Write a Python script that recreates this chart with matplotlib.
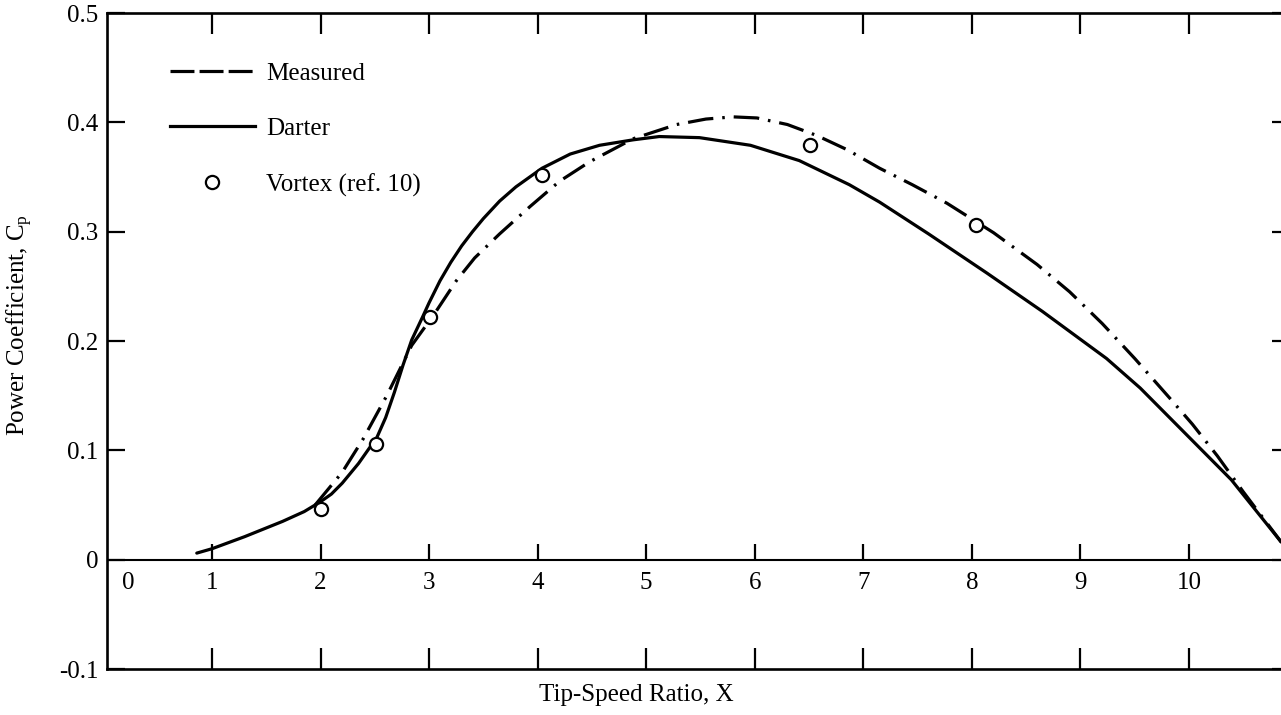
import matplotlib
matplotlib.use('Agg')
import matplotlib.pyplot as plt
from matplotlib.lines import Line2D

plt.rcParams['font.family'] = ['Liberation Serif', 'DejaVu Serif']
plt.rcParams['mathtext.fontset'] = 'custom'
plt.rcParams['mathtext.rm'] = 'Liberation Serif'
plt.rcParams['mathtext.it'] = 'Liberation Serif:italic'

# Darter (solid line)
darter_x = [0.86, 1.0, 1.3, 1.65, 1.85, 2.0, 2.1, 2.2, 2.35, 2.52, 2.6, 2.68,
            2.76, 2.84, 2.94, 3.0, 3.1, 3.2, 3.3, 3.4, 3.5, 3.65, 3.8, 4.04,
            4.3, 4.57, 4.88, 5.12, 5.49, 5.96, 6.41, 6.87, 7.15, 7.6, 8.14,
            8.65, 9.24, 9.55, 9.85, 10.39, 10.85]
darter_y = [0.006, 0.010, 0.021, 0.035, 0.044, 0.053, 0.060, 0.070, 0.088,
            0.112, 0.130, 0.153, 0.178, 0.201, 0.222, 0.235, 0.255, 0.272,
            0.287, 0.300, 0.312, 0.328, 0.341, 0.358, 0.371, 0.379, 0.384,
            0.387, 0.386, 0.379, 0.365, 0.343, 0.327, 0.298, 0.262, 0.227,
            0.184, 0.157, 0.127, 0.073, 0.016]

# Measured (dash-dot line)
meas_x = [1.95, 2.2, 2.39, 2.61, 2.84, 3.05, 3.25, 3.42, 3.65, 3.93, 4.2, 4.48,
          4.88, 5.28, 5.55, 5.8, 6.02, 6.3, 6.57, 6.85, 7.15, 7.45, 7.77, 8.2,
          8.6, 8.9, 9.2, 9.5, 9.82, 10.03, 10.26, 10.5, 10.85]
meas_y = [0.05, 0.08, 0.11, 0.15, 0.196, 0.225, 0.255, 0.276, 0.298, 0.323,
          0.346, 0.364, 0.385, 0.398, 0.403, 0.405, 0.404, 0.398, 0.388, 0.375,
          0.358, 0.343, 0.326, 0.299, 0.270, 0.245, 0.216, 0.184, 0.148, 0.124,
          0.095, 0.062, 0.016]

# Vortex (ref. 10) points
vort_x = [2.0, 2.51, 3.01, 4.04, 6.51, 8.04]
vort_y = [0.046, 0.106, 0.222, 0.352, 0.379, 0.306]

xticks = [1, 2, 3, 4, 5, 6, 7, 8, 9, 10]
xlabels = ['0', '1', '2', '3', '4', '5', '6', '7', '8', '9', '10']
yticks = [-0.1, 0, 0.1, 0.2, 0.3, 0.4, 0.5]
ylabels = ['-0.1', '0', '0.1', '0.2', '0.3', '0.4', '0.5']

fig = plt.figure(figsize=(12.81, 7.15), dpi=100)
ax = fig.add_axes([107 / 1281, 1 - 669 / 715, (1290 - 107) / 1281, (669 - 13) / 715])

lw = 2.3
ax.plot(darter_x, darter_y, color='black', lw=lw, solid_capstyle='round',
        solid_joinstyle='round')
ax.plot(meas_x, meas_y, color='black', lw=lw, linestyle=(0, (8, 2.8, 0.8, 2.8)))
ax.plot(vort_x, vort_y, 'o', ms=9.5, mfc='white', mec='black', mew=1.6, zorder=5)

ax.set_xlim(0.033, 10.93)
ax.set_ylim(-0.1, 0.5)

# zero line with upward ticks and the x tick numbers under it
ax.axhline(0, color='black', lw=1.5)
ax.vlines(xticks, 0, 0.0146, color='black', lw=1.6)
for i, lab in enumerate(xlabels):
    xp = 0.23 if i == 0 else i
    ax.text(xp, -0.021, lab, ha='center', va='center', fontsize=18)

ax.set_xticks(xticks)
ax.set_xticklabels([])
ax.set_yticks(yticks)
ax.set_yticklabels(ylabels, fontsize=18)
ax.tick_params(axis='x', direction='in', length=15, width=1.6, top=True, bottom=True)
ax.tick_params(axis='y', direction='in', length=13, width=1.6, left=True, right=True, pad=6)

for s in ax.spines.values():
    s.set_linewidth(1.9)

fig.text(20 / 1281, 1 - 325 / 715, 'Power Coefficient, C$_\\mathrm{p}$', rotation=90,
         ha='center', va='center', fontsize=18)
fig.text(636 / 1281, 1 - 695 / 715, 'Tip-Speed Ratio, X', ha='center', va='center',
         fontsize=18)

handles = [Line2D([], [], color='black', lw=lw, linestyle=(0, (7.5, 1.6))),
           Line2D([], [], color='black', lw=lw),
           Line2D([], [], color='black', lw=0, marker='o', ms=9.5, mfc='white', mew=1.6)]
ax.legend(handles, ['Measured', 'Darter', 'Vortex (ref. 10)'], loc='upper left',
          bbox_to_anchor=(0.053, 0.925), frameon=False, fontsize=18, handlelength=3.4,
          handletextpad=0.45, labelspacing=1.32, borderpad=0, borderaxespad=0,
          numpoints=1)

fig.savefig('out.png', dpi=100)
